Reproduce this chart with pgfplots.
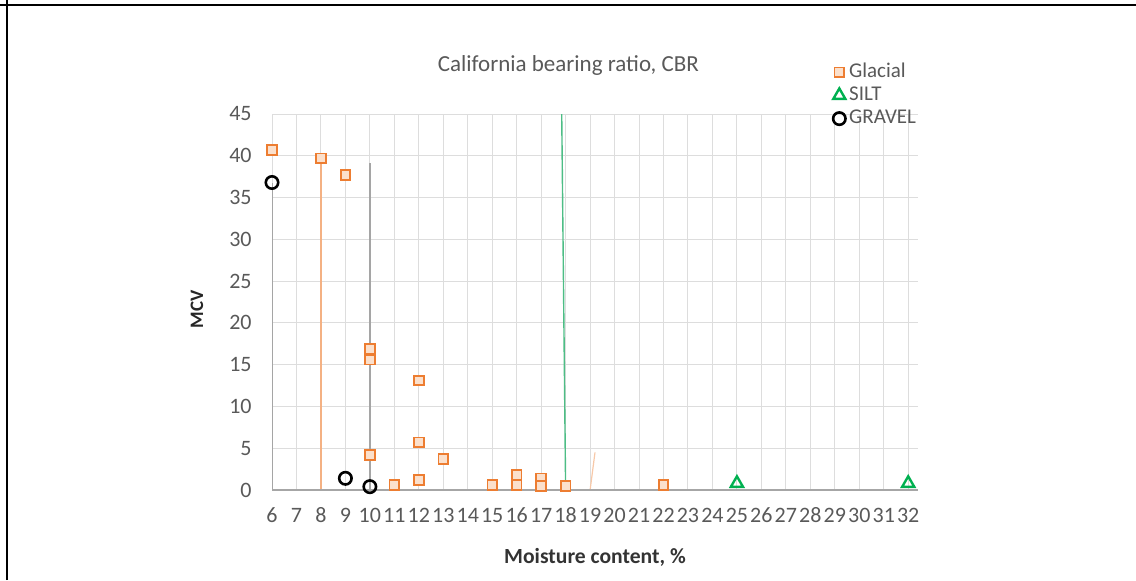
\documentclass[border=0pt]{standalone}
\usepackage{fontspec}
\setmainfont{Carlito}
\usepackage{pgfplots}
\pgfplotsset{compat=1.18}
\definecolor{cOrange}{HTML}{ED7D31}
\definecolor{cOrangeFill}{HTML}{FBE0CC}
\definecolor{cOrangeLine}{HTML}{F4B183}
\definecolor{cGreen}{HTML}{00B050}
\definecolor{cGreenLine}{HTML}{4DBD85}
\definecolor{cGrayLine}{HTML}{A5A5A5}
\definecolor{cGrid}{HTML}{DDDDDD}
\definecolor{cAxis}{HTML}{A6A6A6}
\definecolor{cText}{HTML}{595959}
\begin{document}
\begin{tikzpicture}
\useasboundingbox (0,0) rectangle (568pt,290pt);
\draw[black, line width=1pt] (0,287.5pt) -- (568pt,287.5pt);
\draw[black, line width=1pt] (3.5pt,0) -- (3.5pt,290pt);
\node[font=\fontsize{11.5}{13}\selectfont, text=cText] at (284.2pt,257.5pt) {California bearing ratio, CBR};
\begin{axis}[
  at={(136pt,45pt)}, anchor=south west, scale only axis,
  width=323pt, height=188pt,
  xmin=6, xmax=32.4, ymin=0, ymax=45,
  xtick={6,...,32}, ytick={0,5,...,45},
  major tick length=0pt,
  axis line style={draw=none},
  xmajorgrids, ymajorgrids,
  major grid style={cGrid, line width=0.5pt},
  /pgf/number format/assume math mode=true,
  tick label style={font=\fontsize{11}{13}\selectfont, text=cText},
  xticklabel style={anchor=center, inner sep=0pt, yshift=-12.5pt},
  yticklabel style={anchor=east, inner sep=0pt, xshift=-10pt},
  xlabel={Moisture content, \%},
  xlabel style={at={(axis description cs:0.5,-0.178)}, anchor=center, font=\bfseries\fontsize{10.8}{13}\selectfont, text=black!80},
  ylabel={MCV},
  ylabel style={at={(axis description cs:-0.116,0.481)}, anchor=center, font=\bfseries\fontsize{9.5}{12}\selectfont, text=black!85},
  legend style={at={(0.868,1.143)}, anchor=north west, draw=none, fill=none,
    inner sep=0pt, font=\fontsize{10.5}{12}\selectfont, text=cText,
    nodes={inner sep=0.8pt, text height=7.5pt, text depth=2.5pt},
    column sep=1pt},
  legend cell align=left,
  legend image code/.code={\draw plot coordinates {(0pt,0pt)};},
]
% drop lines
\addplot[forget plot, cGrayLine, line width=0.7pt] coordinates {(6,0) (6,36.8)};
\addplot[forget plot, cOrangeLine, line width=0.7pt] coordinates {(8,0) (8,39.7)};
\addplot[forget plot, cGrayLine, line width=0.7pt] coordinates {(10,0) (10,39.1)};
\addplot[forget plot, cGreenLine, line width=0.7pt] coordinates {(18,0) (17.84,45)};
\addplot[forget plot, cOrangeLine!70, line width=0.6pt] coordinates {(19,0) (19.2,4.5)};
\draw[cAxis, line width=0.8pt] (rel axis cs:0,0) -- (rel axis cs:1,0);
% Glacial
\addplot[only marks, mark=square*, mark size=2.4pt,
  mark options={draw=cOrange, fill=cOrangeFill, line width=0.9pt}] coordinates {
(6,40.7) (8,39.7) (9,37.7) (10,16.9) (10,15.6) (10,4.2) (11,0.6)
(12,13.1) (12,5.7) (12,1.2) (13,3.7) (15,0.6) (16,1.8) (16,0.6)
(17,1.4) (17,0.5) (18,0.5) (22,0.6)
};
\addlegendentry{Glacial}
% SILT
\addplot[only marks, mark=triangle, mark size=3.5pt,
  mark options={draw=cGreen, line width=1.2pt}] coordinates {
(25,0.8) (32,0.8)
};
\addlegendentry{SILT}
% GRAVEL
\addplot[only marks, mark=o, mark size=3.1pt,
  mark options={draw=black, line width=1.3pt}] coordinates {
(6,36.8) (9,1.4) (10,0.4)
};
\addlegendentry{GRAVEL}
\end{axis}
\end{tikzpicture}
\end{document}
